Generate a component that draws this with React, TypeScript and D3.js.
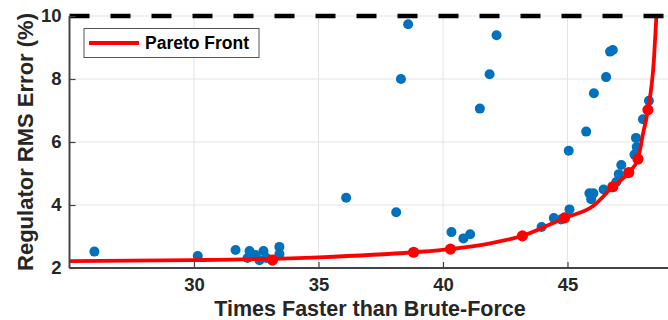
import React, { useEffect, useRef } from 'react';
import * as d3 from 'd3';

// all candidate designs (speed-up vs. RMS error)
const speedups = [
  26.0, 30.15, 31.67, 32.15, 32.23, 32.47, 32.63, 32.79, 32.91, 33.43, 33.43,
  36.11, 38.12, 38.6, 38.31, 40.34, 40.82, 41.09, 41.48, 41.87, 42.15,
  43.96, 44.45, 44.74, 45.08, 45.05, 45.75, 46.06, 46.55, 46.71, 46.82,
  45.88, 46.04, 45.95, 46.45, 46.96, 47.06, 47.16, 47.69, 47.78, 47.75, 48.03, 48.27,
];
const rmsErrors = [
  2.52, 2.38, 2.57, 2.32, 2.54, 2.41, 2.25, 2.54, 2.32, 2.67, 2.44,
  4.23, 3.77, 9.74, 8.0, 3.14, 2.94, 3.07, 7.06, 8.15, 9.39,
  3.3, 3.59, 3.54, 3.86, 5.72, 6.33, 7.55, 8.06, 8.87, 8.92,
  4.37, 4.37, 4.18, 4.49, 4.73, 4.98, 5.27, 5.6, 5.84, 6.13, 6.72, 7.31,
];

// pareto optimal designs
const paretoSpeedups = [33.15, 38.82, 40.3, 43.19, 44.88, 46.82, 47.46, 47.83, 48.23];
const paretoErrors = [2.25, 2.5, 2.6, 3.02, 3.59, 4.58, 5.03, 5.46, 7.02];

// fitted pareto front
const frontX = [25, 30, 35, 38.82, 40.3, 42, 43.19, 44.88, 46, 46.82, 47.46, 47.83, 48.03, 48.23, 48.47, 48.57];
const frontY = [2.22, 2.25, 2.34, 2.5, 2.6, 2.8, 3.02, 3.59, 3.95, 4.58, 5.03, 5.46, 6.25, 7.02, 8.6, 10];

const xTicks = [30, 35, 40, 45];
const yTicks = [2, 4, 6, 8, 10];
const errorLimit = 10;

const width = 668;
const height = 320;
const margin = {
  top: 16, right: 0, bottom: 52, left: 69.5,
};
const font = 'Arial, "Liberation Sans", sans-serif';

const App = () => {
  const ref = useRef<SVGSVGElement>(null);

  useEffect(() => {
    const svg = d3.select(ref.current);
    svg.selectAll('*').remove();

    const x = d3.scaleLinear().domain([25, 48.85]).range([margin.left, margin.left + 24.9 * 23.85]);
    const y = d3.scaleLinear().domain([2, 10]).range([height - margin.bottom, margin.top]);

    // grid
    const grid = svg.append('g').attr('stroke', '#e3e3e3').attr('stroke-width', 1);
    xTicks.forEach((t) => {
      grid.append('line')
        .attr('x1', x(t)).attr('x2', x(t))
        .attr('y1', y(2)).attr('y2', y(10));
    });
    yTicks.forEach((t) => {
      grid.append('line')
        .attr('x1', x(25)).attr('x2', width)
        .attr('y1', y(t)).attr('y2', y(t));
    });

    svg.append('defs').append('clipPath').attr('id', 'plot-clip')
      .append('rect')
      .attr('x', margin.left)
      .attr('y', margin.top)
      .attr('width', width - margin.left)
      .attr('height', y(2) - margin.top);

    // all designs
    svg.append('g')
      .selectAll('circle')
      .data(speedups)
      .enter()
      .append('circle')
      .attr('cx', (d) => x(d))
      .attr('cy', (d, i) => y(rmsErrors[i]))
      .attr('r', 5)
      .attr('fill', '#0072BD');

    // pareto front
    const line = d3.line<number>()
      .x((d) => x(d))
      .y((d, i) => y(frontY[i]))
      .curve(d3.curveMonotoneX);

    svg.append('path')
      .attr('d', line(frontX))
      .attr('clip-path', 'url(#plot-clip)')
      .attr('fill', 'none')
      .attr('stroke', '#FF0000')
      .attr('stroke-width', 3.8);

    svg.append('g')
      .selectAll('circle')
      .data(paretoSpeedups)
      .enter()
      .append('circle')
      .attr('cx', (d) => x(d))
      .attr('cy', (d, i) => y(paretoErrors[i]))
      .attr('r', 5.6)
      .attr('fill', '#FF0000');

    // error limit
    svg.append('line')
      .attr('x1', x(25)).attr('x2', width)
      .attr('y1', y(errorLimit)).attr('y2', y(errorLimit))
      .attr('stroke', '#000')
      .attr('stroke-width', 4.5)
      .attr('stroke-dasharray', '20,21');

    // axes
    const xAxis = d3.axisBottom(x).tickValues(xTicks).tickSize(-6).tickPadding(10)
      .tickFormat(d3.format('d'));
    const yAxis = d3.axisLeft(y).tickValues(yTicks).tickSize(-6).tickPadding(8)
      .tickFormat(d3.format('d'));

    const gx = svg.append('g')
      .attr('transform', `translate(0,${y(2)})`)
      .call(xAxis);
    gx.select('.domain').attr('d', `M${x(25)},0H${width}`);
    const gy = svg.append('g')
      .attr('transform', `translate(${x(25)},0)`)
      .call(yAxis);
    gy.select('.domain').attr('d', `M0,${y(2)}V${y(10)}`);

    [gx, gy].forEach((g) => {
      g.select('.domain').attr('stroke', '#444').attr('stroke-width', 2);
      g.selectAll('.tick line').attr('stroke', '#444').attr('stroke-width', 1.2);
      g.selectAll('.tick text')
        .attr('fill', '#262626')
        .style('font-family', font)
        .style('font-size', '18.5px')
        .style('font-weight', 'bold');
    });

    // axis titles
    svg.append('text')
      .attr('x', 370)
      .attr('y', 315.5)
      .attr('text-anchor', 'middle')
      .attr('fill', '#262626')
      .style('font-family', font)
      .style('font-size', '21.5px')
      .style('font-weight', 'bold')
      .text('Times Faster than Brute-Force');

    svg.append('text')
      .attr('transform', `translate(33,${(16 + 268) / 2}) rotate(-90)`)
      .attr('text-anchor', 'middle')
      .attr('fill', '#262626')
      .style('font-family', font)
      .style('font-size', '22px')
      .style('font-weight', 'bold')
      .text('Regulator RMS Error (%)');

    // legend
    const legend = svg.append('g');
    legend.append('rect')
      .attr('x', 84)
      .attr('y', 28.5)
      .attr('width', 175)
      .attr('height', 29)
      .attr('fill', '#fff')
      .attr('stroke', '#555')
      .attr('stroke-width', 1);
    legend.append('line')
      .attr('x1', 89).attr('x2', 139)
      .attr('y1', 43).attr('y2', 43)
      .attr('stroke', '#FF0000')
      .attr('stroke-width', 3.8);
    legend.append('text')
      .attr('x', 145)
      .attr('y', 49)
      .attr('fill', '#000')
      .style('font-family', font)
      .style('font-size', '17.5px')
      .style('font-weight', 'bold')
      .text('Pareto Front');
  }, []);

  return (
    <svg
      ref={ref}
      width={width}
      height={height}
      style={{ position: 'absolute', left: 0, top: 0, background: '#fff' }}
    />
  );
};

export default App;
